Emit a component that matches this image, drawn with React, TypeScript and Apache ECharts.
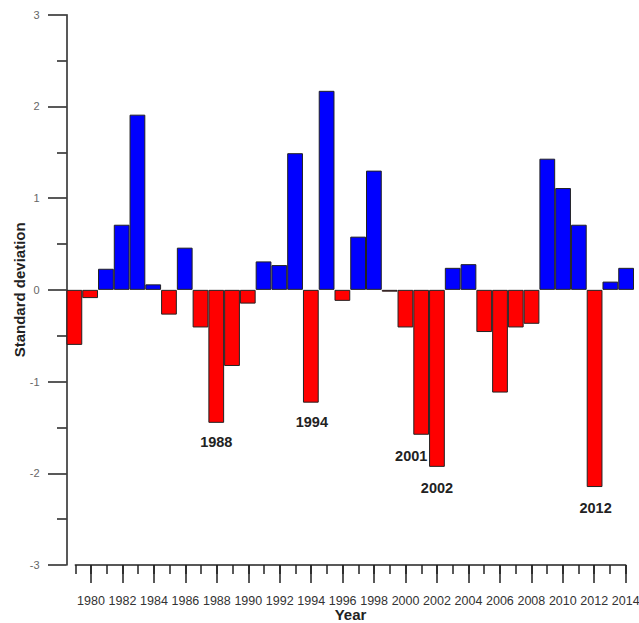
import React, { useEffect, useRef } from "react";
import * as echarts from "echarts";

const years = [
  "1979", "1980", "1981", "1982", "1983", "1984", "1985", "1986", "1987",
  "1988", "1989", "1990", "1991", "1992", "1993", "1994", "1995", "1996",
  "1997", "1998", "1999", "2000", "2001", "2002", "2003", "2004", "2005",
  "2006", "2007", "2008", "2009", "2010", "2011", "2012", "2013", "2014",
];

const values = [
  -0.6, -0.09, 0.23, 0.71, 1.91, 0.06, -0.27, 0.46, -0.41,
  -1.45, -0.83, -0.15, 0.31, 0.27, 1.49, -1.23, 2.17, -0.12,
  0.58, 1.3, -0.02, -0.41, -1.58, -1.93, 0.24, 0.28, -0.46,
  -1.12, -0.41, -0.37, 1.43, 1.11, 0.71, -2.15, 0.09, 0.24,
];

const highlightedYears = ["1988", "1994", "2001", "2002", "2012"];

const yTicks = { min: -3, max: 3, interval: 1 };

const FONT = "'Liberation Sans', Arial, Helvetica, sans-serif";

// label placement tweaks (pixels), kept apart from the data
const labelPlacement: Record<string, { distance: number; dx: number }> = {
  "1988": { distance: 12, dx: 0 },
  "1994": { distance: 12, dx: 1 },
  "2001": { distance: 14, dx: -10 },
  "2002": { distance: 14, dx: 0 },
  "2012": { distance: 13, dx: 1 },
};

export default function App() {
  const ref = useRef<HTMLDivElement>(null);

  useEffect(() => {
    if (!ref.current) return;
    const chart = echarts.init(ref.current, undefined, { renderer: "svg" });

    const barData = values.map((v, i) => {
      const y = years[i];
      const item: any = {
        value: v,
        itemStyle: { color: v >= 0 ? "#0000ff" : "#ff0000" },
      };
      if (highlightedYears.includes(y)) {
        const p = labelPlacement[y];
        item.label = {
          show: true,
          position: "bottom",
          distance: p.distance,
          offset: [p.dx, 0],
          formatter: y,
          fontFamily: FONT,
          fontWeight: "bold",
          fontSize: 14.5,
          color: "#222",
        };
      }
      return item;
    });

    const axisColor = "#222";

    chart.setOption({
      animation: false,
      backgroundColor: "#ffffff",
      grid: [
        {
          left: 66.5,
          right: 5,
          top: 14.7,
          bottom: 58,
          containLabel: false,
          outerBoundsMode: "none",
        },
        {
          left: 75.3,
          right: 13.3,
          top: 560,
          bottom: 58,
          containLabel: false,
          outerBoundsMode: "none",
        },
      ],
      xAxis: [
        {
          type: "category",
          gridIndex: 0,
          data: years,
          show: false,
          boundaryGap: true,
        },
        {
          type: "category",
          gridIndex: 1,
          data: years,
          boundaryGap: false,
          position: "bottom",
          axisLine: { show: true, lineStyle: { color: axisColor, width: 1.5 } },
          axisTick: {
            show: true,
            interval: 0,
            length: 9,
            lineStyle: { color: axisColor, width: 1.5 },
          },
          axisLabel: {
            show: true,
            interval: (index: number) => index % 2 === 1,
            margin: 29,
            fontSize: 12.5,
            fontFamily: FONT,
            color: "#333",
            hideOverlap: false,
          },
          splitLine: { show: false },
          name: "Year",
          nameLocation: "middle",
          nameGap: 42,
          nameMoveOverlap: false,
          nameTextStyle: {
            fontFamily: FONT,
            fontWeight: "bold",
            fontSize: 15,
            color: "#222",
          },
        },
        {
          type: "category",
          gridIndex: 1,
          data: years,
          boundaryGap: false,
          position: "bottom",
          axisLine: { show: false },
          axisTick: {
            show: true,
            interval: (index: number) => index % 2 === 1,
            length: 18,
            lineStyle: { color: axisColor, width: 1.5 },
          },
          axisLabel: { show: false },
          splitLine: { show: false },
        },
      ],
      yAxis: [
        {
          type: "value",
          gridIndex: 0,
          min: yTicks.min,
          max: yTicks.max,
          interval: yTicks.interval,
          axisLine: { show: true, lineStyle: { color: axisColor, width: 1.5 } },
          axisTick: {
            show: true,
            length: 18.5,
            lineStyle: { color: axisColor, width: 1.5 },
          },
          minorTick: {
            show: true,
            splitNumber: 2,
            length: 9.5,
            lineStyle: { color: axisColor, width: 1.5 },
          },
          axisLabel: {
            margin: 27,
            fontSize: 11,
            fontFamily: FONT,
            color: "#666",
          },
          splitLine: { show: false },
          minorSplitLine: { show: false },
          name: "Standard deviation",
          nameLocation: "middle",
          nameGap: 40,
          nameMoveOverlap: false,
          nameTextStyle: {
            fontFamily: FONT,
            fontWeight: "bold",
            fontSize: 15,
            color: "#222",
          },
        },
        {
          type: "value",
          gridIndex: 1,
          show: false,
        },
      ],
      series: [
        {
          type: "bar",
          xAxisIndex: 0,
          yAxisIndex: 0,
          data: barData,
          barWidth: "100%",
          barCategoryGap: "0%",
          itemStyle: { borderColor: "#222", borderWidth: 1 },
        },
      ],
    });

    return () => chart.dispose();
  }, []);

  return (
    <div
      ref={ref}
      style={{ position: "fixed", left: 0, top: 0, width: 639, height: 623 }}
    />
  );
}
